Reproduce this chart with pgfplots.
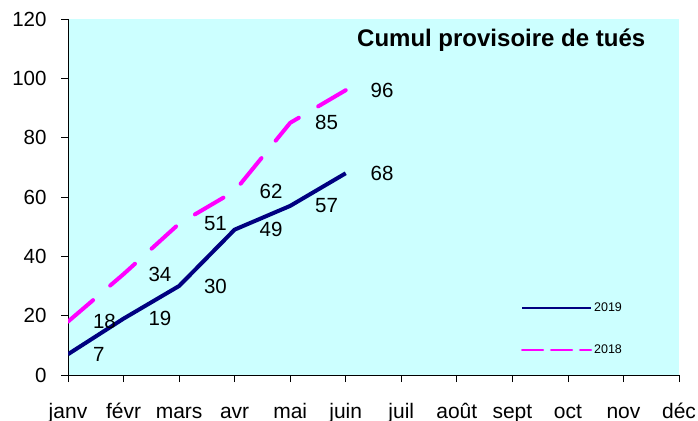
\documentclass[border=0pt]{standalone}
\usepackage{pgfplots}
\pgfplotsset{compat=1.18}
\usepackage{fontspec}
\setmainfont{Liberation Sans}
\definecolor{bgcyan}{HTML}{CCFFFF}
\definecolor{navyline}{HTML}{000080}
\definecolor{magline}{HTML}{FF00FF}
\begin{document}
\begin{tikzpicture}
\useasboundingbox (-68bp,-46bp) rectangle (630bp,375bp);
\begin{axis}[
  at={(0,0)}, anchor=south west,
  scale only axis, width=611bp, height=356bp,
  xmin=0, xmax=11, ymin=0, ymax=120,
  xtick={0,...,11},
  xticklabels={janv,févr,mars,avr,mai,juin,juil,août,sept,oct,nov,déc},
  ytick={0,20,...,120},
  axis x line*=bottom, axis y line*=left,
  axis line style={-, line width=1bp, black},
  tick align=outside, major tick length=7bp,
  tick style={black, line width=0.8bp},
  axis background/.style={fill=bgcyan},
  /pgf/number format/assume math mode=true,
  yticklabel style={font=\fontsize{20.5bp}{24bp}\selectfont, xshift=-11bp},
  xticklabel style={font=\fontsize{21bp}{24bp}\selectfont, text depth=0pt, anchor=base, yshift=-36bp},
  every node near coord/.append style={anchor=west, inner sep=0pt, xshift=23bp, font=\fontsize{20.5bp}{24bp}\selectfont, text=black},
  legend style={at={(rel axis cs:0.741,0.129)}, anchor=west, draw=none, fill=none,
    font=\fontsize{12.5bp}{14bp}\selectfont, row sep=28bp, inner sep=0pt},
  legend cell align=left,
]
\addplot[navyline, line width=4bp, line join=round, nodes near coords,
  legend image code/.code={\draw[navyline, line width=2.2bp] (0bp,0bp) -- (69bp,0bp);}]
  coordinates {(0,7) (1,19) (2,30) (3,49) (4,57) (5,68)};
\addlegendentry{2019}
\addplot[magline, line width=4bp, line cap=round, line join=round, dash pattern=on 33bp off 22.5bp, nodes near coords,
  legend image code/.code={\draw[magline, line width=2.2bp, dash pattern=on 21bp off 8bp] (0bp,0bp) -- (69bp,0bp);}]
  coordinates {(0,18) (1,34) (2,51) (3,62) (4,85) (5,96)};
\addlegendentry{2018}
\node[anchor=base, font=\bfseries\fontsize{24bp}{28bp}\selectfont] at (rel axis cs:0.709,0.924) {Cumul provisoire de tués};
\end{axis}
\end{tikzpicture}
\end{document}
